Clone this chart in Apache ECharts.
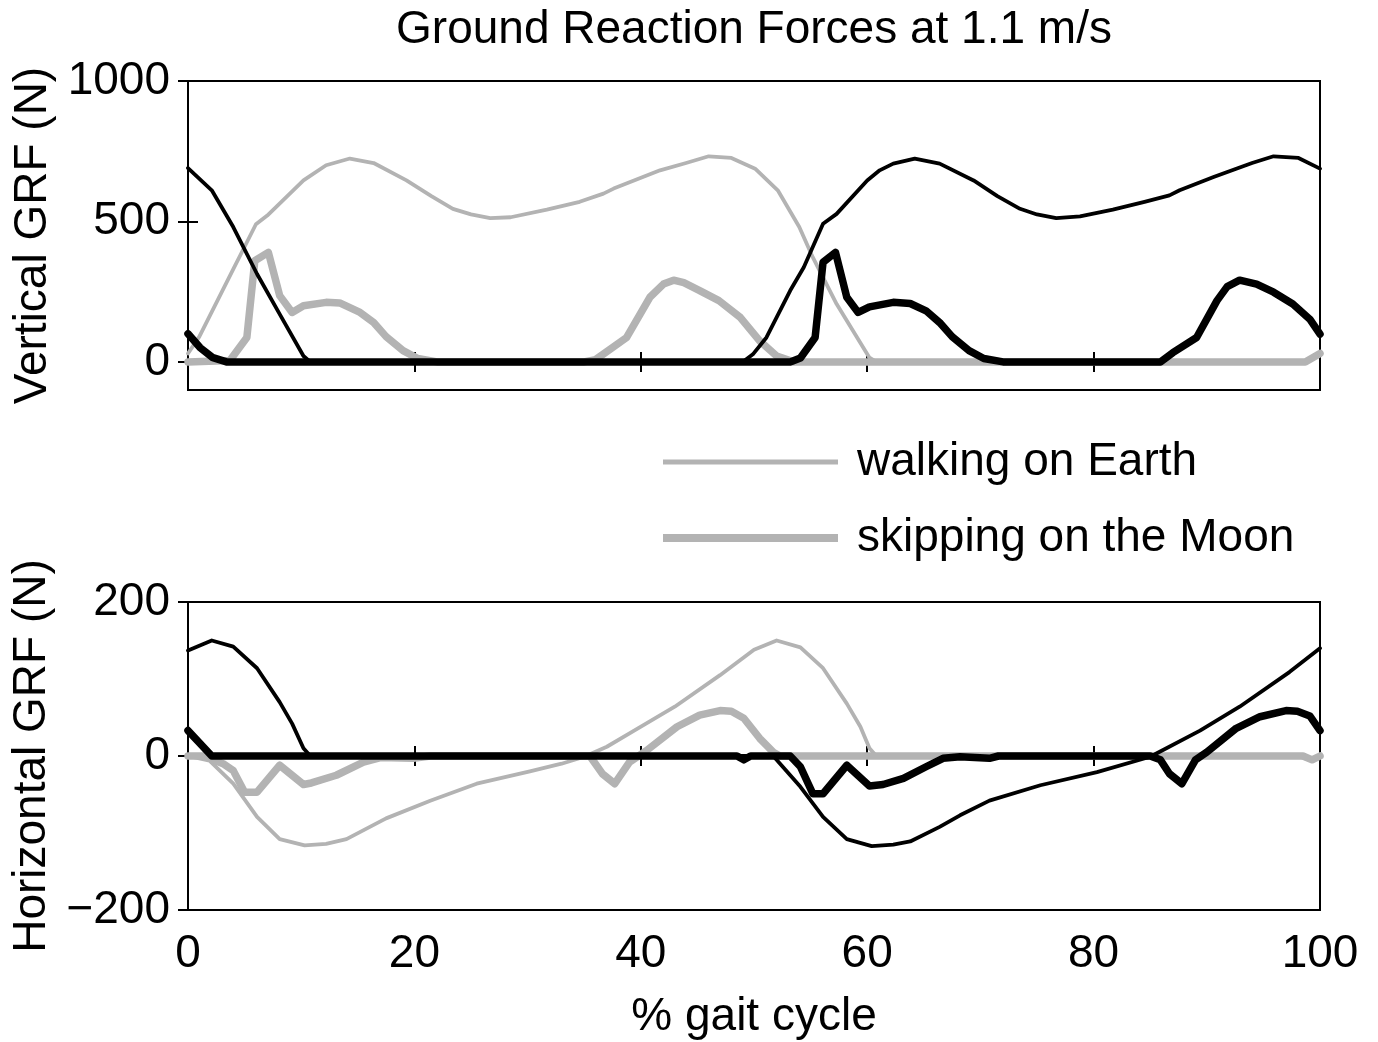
<!DOCTYPE html>
<html>
<head>
<meta charset="utf-8">
<script src="https://cdn.jsdelivr.net/npm/echarts@6/dist/echarts.min.js"></script>
<style>
  html, body { margin: 0; padding: 0; background: #fff; }
  #chart { width: 1378px; height: 1042px; }
</style>
</head>
<body>
<div id="chart"></div>
<script>
// ---------- data ([% gait cycle, force N]) ----------
const titleText = 'Ground Reaction Forces at 1.1 m/s';
const legendNames = ['walking on Earth', 'skipping on the Moon'];
const xTicks = [0, 20, 40, 60, 80, 100];
const vTicks = [0, 500, 1000];
const hTicks = [-200, 0, 200];

// Vertical GRF
const walkVertA = [[0,30],[1,90],[2,170],[3,250],[4,330],[5,410],[6,490],[7,521],[8,560],[10.2,646],[12.2,700],[14.3,724],[16.4,708],[19.3,646],[21.5,590],[23.4,545],[25,525],[26.7,512],[28.5,515],[31.7,542],[34.6,570],[36.7,599],[37.6,617],[41.7,682],[44,708],[46,732],[48,726],[50.1,688],[52.1,611],[54,480],[55.2,372],[57.3,206],[60.2,15],[60.8,0],[98.5,0],[100,25]];
const walkVertB = [[0,690],[2.1,611],[4,480],[6.1,313],[8.1,170],[10.2,21],[10.8,0],[49,0],[49.9,27],[51.1,87],[53.2,254],[54.4,337],[56.1,492],[57.3,527],[60,646],[61.1,682],[62.3,706],[64.2,724],[66.4,706],[69.4,646],[71.5,590],[73.5,545],[75,525],[76.7,512],[78.8,518],[81.7,542],[84.5,570],[86.7,593],[87.6,611],[90.6,658],[94,708],[95.9,732],[98.1,726],[100,688]];
const skipVertA = [[0,0],[3.7,5],[5.2,87],[5.9,360],[7.1,390],[8.1,236],[9.2,176],[10.2,200],[12.2,212],[13.4,210],[15.2,176],[16.4,140],[17.5,90],[19,40],[20.3,12],[22,0],[35,0],[36,8],[38.75,87],[40.8,230],[42,277],[42.9,291],[43.8,282],[45.2,254],[46.9,218],[48.8,158],[50.5,75],[52,21],[53.5,0],[98.7,0],[100,30]];
const skipVertB = [[0,100],[1.06,51],[2.2,15],[3.4,0],[53.2,0],[54.1,14],[55.4,87],[56.1,355],[57.2,390],[58.2,230],[59.2,176],[60.2,196],[62.3,212],[63.8,208],[65.2,182],[66.4,140],[67.5,90],[69,40],[70.3,12],[72,0],[85.9,0],[87,33],[89.1,87],[90.9,218],[91.8,268],[92.9,291],[94.4,277],[95.9,248],[97.6,206],[99.1,152],[100,99]];

// Horizontal GRF
const walkHorA = [[0,0],[1.9,-6],[4,-36],[6.1,-79],[8.1,-108],[10.3,-116],[12.2,-114],[14,-108],[17.5,-81],[21.4,-58],[25.5,-36],[30.2,-20],[33,-10],[35,-1],[37,12],[39.3,32],[43,64],[47,105],[50,138],[52,150],[54.1,141],[56.1,114],[58.2,68],[59.4,38],[60.2,10],[60.8,0],[98,0],[99.1,-5],[100,0]];
const walkHorB = [[0,137],[2.1,150],[4,142],[6.1,114],[8.1,70],[9.2,42],[10.2,10],[10.8,0],[51.7,0],[54.1,-40],[56.1,-79],[58.2,-108],[60.4,-117],[62.3,-115],[63.8,-111],[66.4,-92],[68.2,-77],[70.8,-58],[75.3,-38],[80.3,-21],[85,-1],[89.4,33],[92.9,64],[97.3,109],[100,140]];
const skipHorA = [[0,0],[1.4,0],[3.1,-10],[4,-19],[5,-47],[6.1,-47],[8.1,-12],[10.2,-37],[10.9,-35],[13.1,-25],[15.5,-8],[17,-2],[19.9,-3],[21.4,0],[35.5,0],[36.6,-23],[37.7,-36],[39,-8],[40.5,7],[43.2,38],[45.2,53],[47,59],[48,58],[49.1,49],[50.5,23],[51.7,5],[52.3,0],[98.5,0],[99.3,-5],[100,0]];
const skipHorB = [[0,33],[2.1,0],[48.5,0],[49.1,-5],[49.7,0],[53.2,0],[54.1,-14],[55.2,-49],[56.1,-49],[58.2,-12],[60.2,-39],[61.4,-37],[63.2,-29],[65.2,-14],[66.7,-3],[68.2,-1],[70.8,-3],[71.6,0],[85,0],[85.9,-5],[86.7,-23],[87.8,-36],[89,-5],[90,5],[92.6,36],[94.7,51],[97,59],[98,58],[99.1,52],[100,33]];

// ---------- chart ----------
const FONT = "'Liberation Sans', Arial, Helvetica, sans-serif";
const GRAY = '#b3b3b3';
const BLACK = '#000000';
const THIN = 3.8, THICK = 7.5;

const chart = echarts.init(document.getElementById('chart'), null, { renderer: 'canvas' });

function fmt(v) { return v < 0 ? '\u2212' + Math.abs(v) : String(v); }

const tickStyle = { show: true, inside: true, length: 10, lineStyle: { color: BLACK, width: 2 } };
const labelStyle = { fontFamily: FONT, fontSize: 46, color: BLACK };

function xAx(grid, pos, showLabel, extra) {
  return Object.assign({
    type: 'value', gridIndex: grid, position: pos, min: xTicks[0], max: xTicks[xTicks.length - 1], interval: xTicks[1] - xTicks[0],
    axisLine: { show: false }, splitLine: { show: false },
    axisTick: tickStyle,
    axisLabel: Object.assign({ show: showLabel, margin: 21 }, labelStyle)
  }, extra || {});
}
function yAx(grid, pos, min, max, ticks, showLabel, extra) {
  return Object.assign({
    type: 'value', gridIndex: grid, position: pos, min: min, max: max,
    axisLine: { show: false }, splitLine: { show: false },
    axisTick: Object.assign({ customValues: ticks }, tickStyle),
    axisLabel: Object.assign({ show: showLabel, margin: 18, customValues: ticks, formatter: fmt }, labelStyle)
  }, extra || {});
}

function line(name, data, color, width, xi, yi, z) {
  return {
    name: name, type: 'line', data: data, xAxisIndex: xi, yAxisIndex: yi,
    showSymbol: false, symbol: 'none', smooth: false, animation: false, z: z,
    lineStyle: { color: color, width: width, cap: 'round', join: 'round' },
    itemStyle: { color: color }
  };
}

const nameStyle = { fontFamily: FONT, fontSize: 46, color: BLACK };

const option = {
  backgroundColor: '#ffffff',
  animation: false,
  title: {
    text: titleText, left: 754, top: 7, textAlign: 'center', padding: 0,
    textStyle: { fontFamily: FONT, fontSize: 46, fontWeight: 'normal', color: BLACK }
  },
  legend: [
    { data: [legendNames[0]], left: 663, top: 439, padding: 0, icon: 'rect', itemWidth: 175, itemHeight: 5,
      selectedMode: false, textStyle: { fontFamily: FONT, fontSize: 46, color: BLACK, padding: [0, 0, 0, 14] } },
    { data: [legendNames[1]], left: 663, top: 515, padding: 0, icon: 'rect', itemWidth: 175, itemHeight: 8,
      selectedMode: false, textStyle: { fontFamily: FONT, fontSize: 46, color: BLACK, padding: [0, 0, 0, 14] } }
  ],
  grid: [
    { left: 188, top: 81, width: 1132, height: 309, show: true, borderColor: BLACK, borderWidth: 2, backgroundColor: 'transparent' },
    { left: 188, top: 602, width: 1132, height: 308, show: true, borderColor: BLACK, borderWidth: 2, backgroundColor: 'transparent' }
  ],
  xAxis: [
    xAx(0, 'bottom', false),
    xAx(1, 'bottom', true, { name: '% gait cycle', nameLocation: 'middle', nameGap: 84, nameTextStyle: nameStyle }),
    xAx(0, 'top', false),
    xAx(1, 'top', false)
  ],
  yAxis: [
    yAx(0, 'left', -100, 1000, vTicks, true, { name: 'Vertical GRF (N)', nameLocation: 'middle', nameGap: 128, nameTextStyle: nameStyle }),
    yAx(1, 'left', -200, 200, hTicks, true, { name: 'Horizontal GRF (N)', nameLocation: 'middle', nameGap: 128, nameTextStyle: nameStyle }),
    yAx(0, 'right', -100, 1000, vTicks, false),
    yAx(1, 'right', -200, 200, hTicks, false)
  ],
  series: [
    line(legendNames[0], walkVertA, GRAY, THIN, 0, 0, 2),
    line(legendNames[1], skipVertA, GRAY, THICK, 0, 0, 3),
    line('walking on Earth (other leg)', walkVertB, BLACK, THIN, 0, 0, 4),
    line('skipping on the Moon (other leg)', skipVertB, BLACK, THICK, 0, 0, 5),
    line(legendNames[0], walkHorA, GRAY, THIN, 1, 1, 2),
    line(legendNames[1], skipHorA, GRAY, THICK, 1, 1, 3),
    line('walking on Earth (other leg)', walkHorB, BLACK, THIN, 1, 1, 4),
    line('skipping on the Moon (other leg)', skipHorB, BLACK, THICK, 1, 1, 5)
  ]
};
chart.setOption(option);
</script>
</body>
</html>
